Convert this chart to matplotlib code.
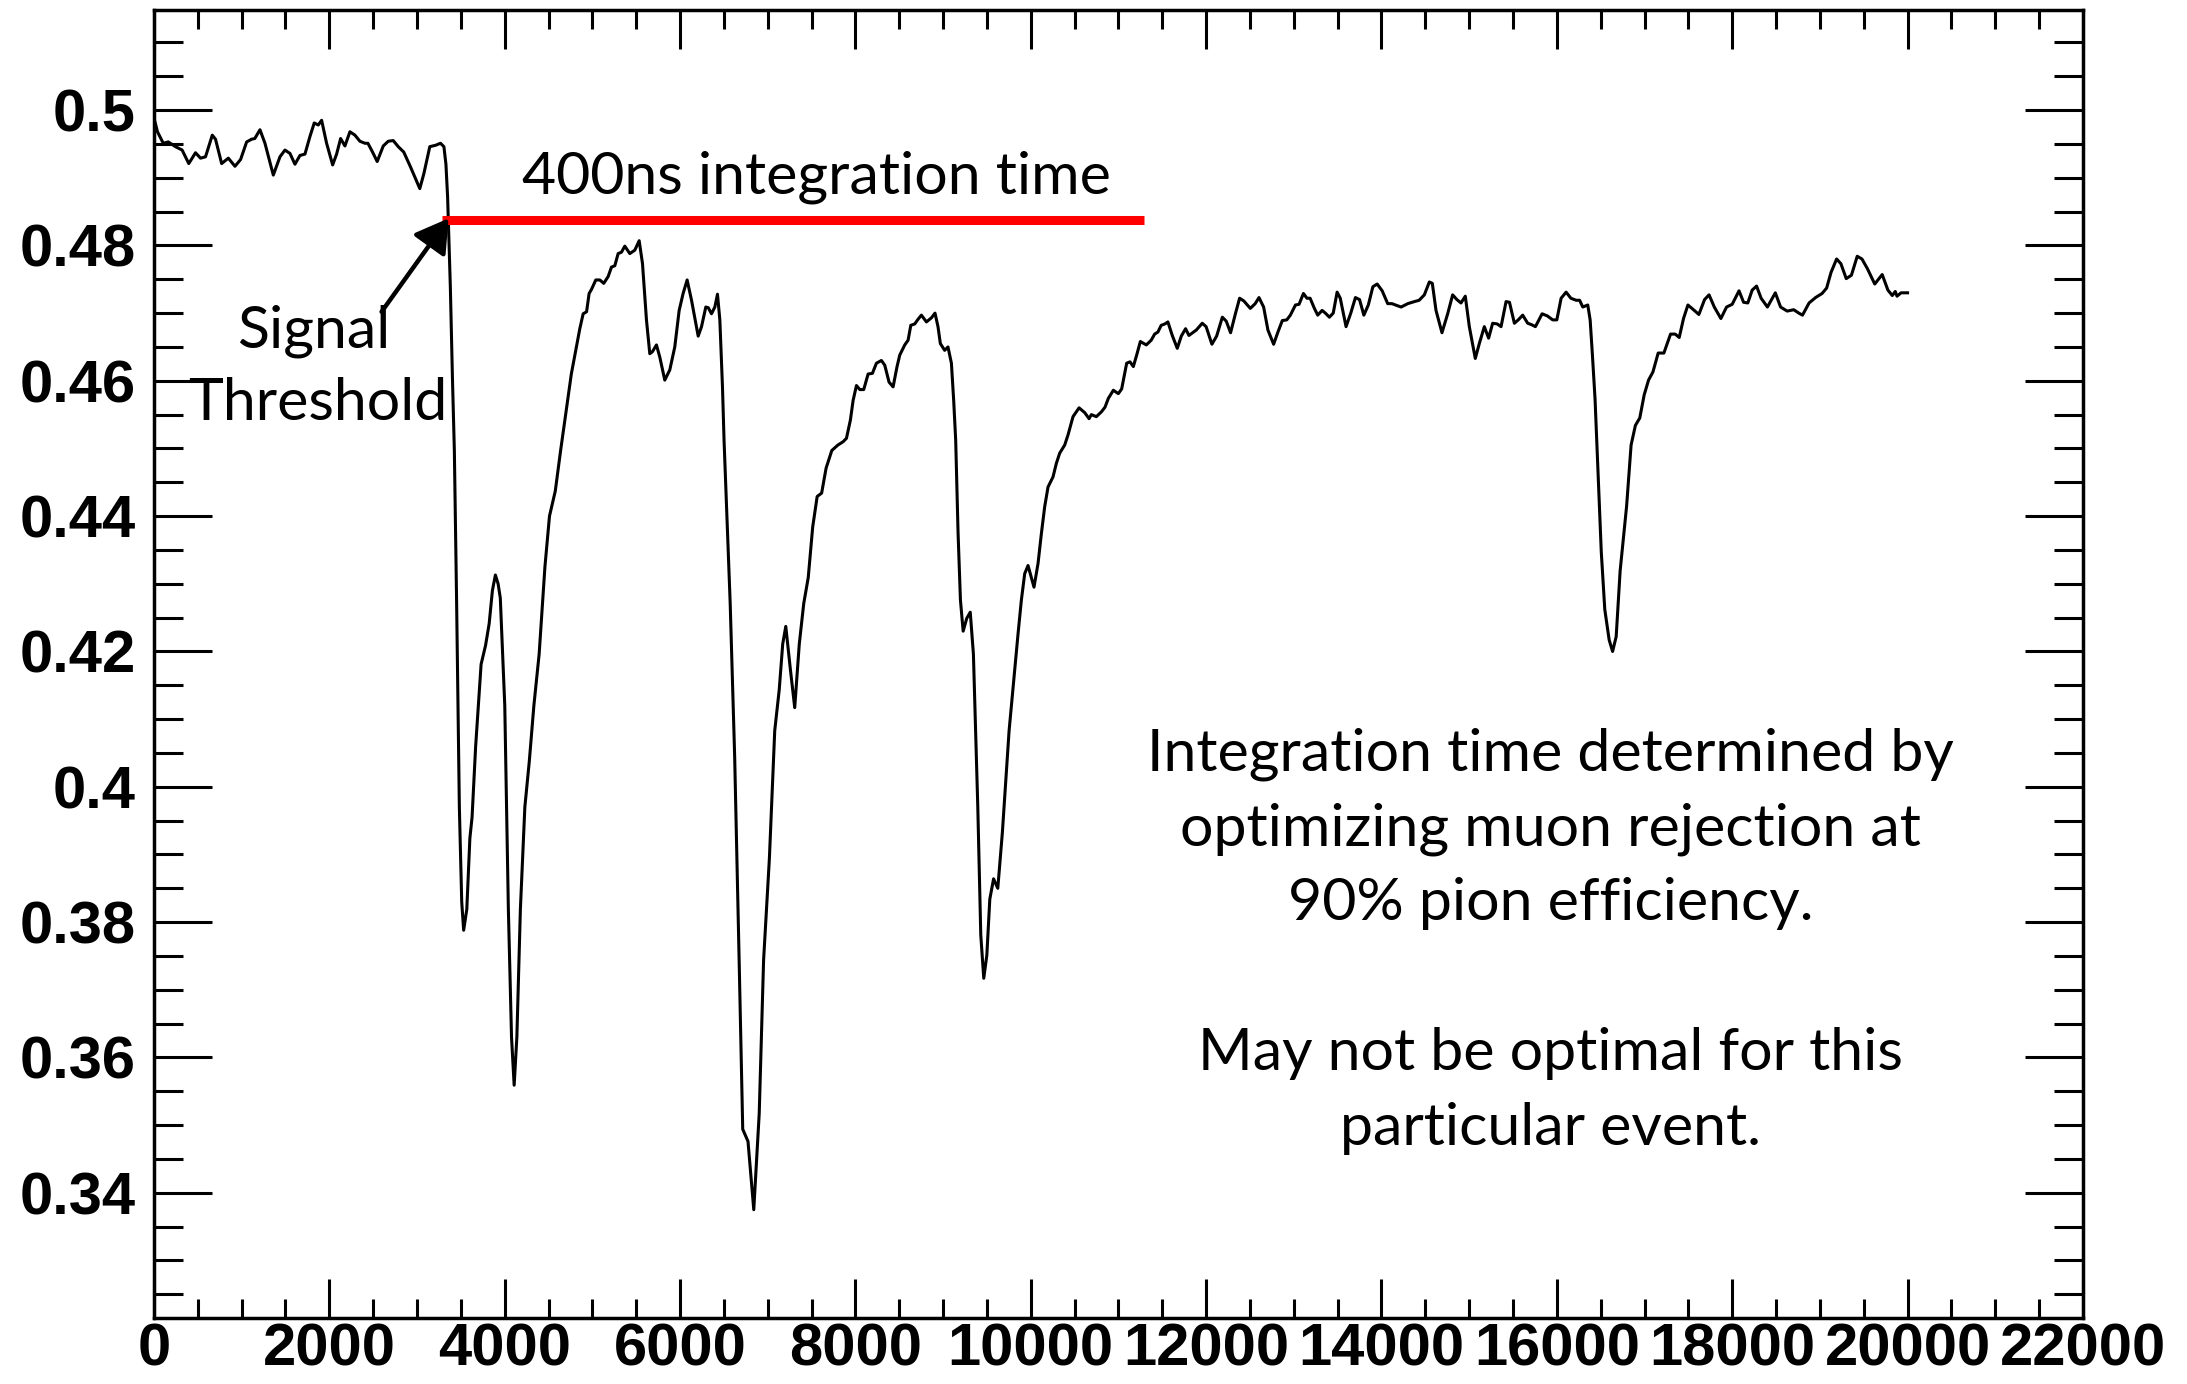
import matplotlib
matplotlib.use("Agg")
import matplotlib.pyplot as plt
from matplotlib.ticker import MultipleLocator, FuncFormatter

# waveform (sample index, amplitude)
wave_x = [0, 11, 40, 106, 163, 245, 321, 397, 474, 531, 588, 665, 702, 772, 848, 924, 988,
          1057, 1114, 1150, 1209, 1266, 1361, 1437, 1494, 1551, 1608, 1665, 1722, 1779, 1828,
          1874, 1912, 1969, 2038, 2083, 2129, 2178, 2235, 2292, 2349, 2406, 2440, 2493, 2546,
          2615, 2672, 2729, 2786, 2849, 2926, 2983, 3032, 3078, 3146, 3211, 3268, 3307, 3330,
          3349, 3380, 3405, 3426, 3452, 3483, 3510, 3532, 3568, 3603, 3628, 3669, 3731, 3782,
          3823, 3860, 3894, 3925, 3950, 4001, 4042, 4078, 4108, 4139, 4179, 4230, 4281, 4333,
          4393, 4459, 4511, 4577, 4638, 4700, 4760, 4810, 4857, 4895, 4934, 4963, 4990, 5039,
          5085, 5130, 5180, 5218, 5256, 5294, 5332, 5370, 5427, 5484, 5534, 5572, 5617, 5655,
          5685, 5731, 5769, 5826, 5883, 5940, 5990, 6035, 6081, 6131, 6207, 6245, 6294, 6322,
          6359, 6397, 6427, 6454, 6484, 6502, 6572, 6623, 6674, 6715, 6775, 6841, 6903, 6953,
          7019, 7080, 7131, 7171, 7206, 7258, 7308, 7360, 7411, 7462, 7513, 7564, 7615, 7666,
          7731, 7800, 7860, 7898, 7943, 7974, 8012, 8050, 8095, 8145, 8194, 8240, 8297, 8335,
          8384, 8430, 8475, 8506, 8563, 8601, 8632, 8677, 8715, 8753, 8810, 8867, 8908, 8942,
          8969, 9018, 9056, 9095, 9121, 9144, 9171, 9198, 9229, 9270, 9310, 9346, 9396, 9430,
          9464, 9499, 9533, 9576, 9624, 9676, 9753, 9855, 9893, 9931, 9969, 10037, 10083,
          10121, 10159, 10197, 10254, 10292, 10330, 10387, 10425, 10482, 10551, 10615, 10665,
          10691, 10748, 10805, 10847, 10885, 10942, 10999, 11037, 11094, 11132, 11170, 11208,
          11250, 11318, 11374, 11413, 11450, 11488, 11530, 11564, 11614, 11671, 11717, 11766,
          11804, 11888, 11956, 12000, 12066, 12120, 12185, 12230, 12279, 12336, 12382, 12430,
          12504, 12560, 12603, 12656, 12705, 12770, 12819, 12869, 12920, 12961, 13019, 13060,
          13110, 13150, 13186, 13235, 13273, 13323, 13360, 13406, 13450, 13494, 13530, 13596,
          13650, 13703, 13750, 13799, 13850, 13902, 13951, 14008, 14071, 14120, 14160, 14224,
          14300, 14375, 14430, 14489, 14546, 14580, 14622, 14690, 14755, 14812, 14860, 14907,
          14956, 15002, 15070, 15116, 15173, 15222, 15268, 15320, 15364, 15421, 15460, 15516,
          15560, 15611, 15668, 15710, 15756, 15832, 15890, 15953, 16000, 16049, 16106, 16160,
          16220, 16260, 16296, 16353, 16380, 16405, 16436, 16472, 16507, 16547, 16597, 16636,
          16677, 16722, 16757, 16796, 16847, 16896, 16946, 16996, 17046, 17096, 17156, 17221,
          17297, 17350, 17396, 17445, 17495, 17550, 17620, 17685, 17736, 17796, 17871, 17936,
          18000, 18078, 18130, 18178, 18228, 18278, 18330, 18402, 18492, 18552, 18627, 18702,
          18760, 18802, 18877, 18951, 19025, 19077, 19127, 19191, 19240, 19301, 19360, 19426,
          19480, 19541, 19626, 19711, 19776, 19826, 19860, 19880, 19926, 20000]
wave_y = [0.4985, 0.4983, 0.4968, 0.4951, 0.4953, 0.4946, 0.4941, 0.4921, 0.4937, 0.4929, 0.4931,
          0.4963, 0.4957, 0.4921, 0.4929, 0.4917, 0.4927, 0.4953, 0.4957, 0.4958, 0.4971, 0.4951,
          0.4904, 0.4931, 0.4941, 0.4936, 0.4920, 0.4933, 0.4935, 0.4961, 0.4981, 0.4978, 0.4985,
          0.4951, 0.4919, 0.4935, 0.4958, 0.4947, 0.4968, 0.4963, 0.4954, 0.4951, 0.4951, 0.4938,
          0.4924, 0.4947, 0.4954, 0.4955, 0.4946, 0.4938, 0.4916, 0.4899, 0.4884, 0.4906, 0.4946,
          0.4948, 0.4951, 0.4946, 0.4920, 0.4872, 0.4740, 0.4600, 0.4497, 0.4271, 0.3970, 0.3830,
          0.3788, 0.3819, 0.3924, 0.3955, 0.4060, 0.4181, 0.4209, 0.4241, 0.4290, 0.4313, 0.4300,
          0.4279, 0.4120, 0.3819, 0.3630, 0.3559, 0.3630, 0.3819, 0.3970, 0.4038, 0.4120, 0.4196,
          0.4325, 0.4400, 0.4437, 0.4497, 0.4555, 0.4610, 0.4645, 0.4677, 0.4699, 0.4702, 0.4729,
          0.4735, 0.4749, 0.4749, 0.4744, 0.4754, 0.4768, 0.4770, 0.4788, 0.4790, 0.4799, 0.4788,
          0.4793, 0.4807, 0.4773, 0.4690, 0.4640, 0.4643, 0.4653, 0.4635, 0.4601, 0.4616, 0.4650,
          0.4704, 0.4729, 0.4749, 0.4719, 0.4666, 0.4680, 0.4709, 0.4708, 0.4699, 0.4709, 0.4728,
          0.4690, 0.4591, 0.4512, 0.4271, 0.4045, 0.3744, 0.3494, 0.3476, 0.3375, 0.3517, 0.3744,
          0.3894, 0.4083, 0.4143, 0.4211, 0.4237, 0.4174, 0.4117, 0.4211, 0.4271, 0.4309, 0.4384,
          0.4429, 0.4434, 0.4471, 0.4497, 0.4505, 0.4510, 0.4515, 0.4542, 0.4571, 0.4593, 0.4587,
          0.4587, 0.4610, 0.4611, 0.4626, 0.4630, 0.4623, 0.4598, 0.4591, 0.4621, 0.4638, 0.4653,
          0.4660, 0.4682, 0.4684, 0.4691, 0.4697, 0.4687, 0.4693, 0.4700, 0.4680, 0.4655, 0.4645,
          0.4650, 0.4626, 0.4571, 0.4512, 0.4375, 0.4276, 0.4230, 0.4249, 0.4258, 0.4196, 0.3970,
          0.3781, 0.3717, 0.3751, 0.3834, 0.3864, 0.3850, 0.3932, 0.4083, 0.4226, 0.4276, 0.4315,
          0.4327, 0.4295, 0.4330, 0.4374, 0.4414, 0.4443, 0.4458, 0.4478, 0.4493, 0.4505, 0.4520,
          0.4547, 0.4560, 0.4553, 0.4544, 0.4550, 0.4547, 0.4554, 0.4561, 0.4574, 0.4586, 0.4581,
          0.4588, 0.4626, 0.4628, 0.4621, 0.4638, 0.4658, 0.4653, 0.4660, 0.4669, 0.4672, 0.4682,
          0.4684, 0.4687, 0.4667, 0.4648, 0.4666, 0.4677, 0.4667, 0.4675, 0.4685, 0.4680, 0.4654,
          0.4666, 0.4694, 0.4688, 0.4671, 0.4700, 0.4722, 0.4718, 0.4707, 0.4714, 0.4723, 0.4709,
          0.4675, 0.4654, 0.4672, 0.4689, 0.4690, 0.4697, 0.4712, 0.4713, 0.4729, 0.4722, 0.4722,
          0.4707, 0.4697, 0.4704, 0.4700, 0.4694, 0.4700, 0.4731, 0.4722, 0.4680, 0.4700, 0.4723,
          0.4720, 0.4697, 0.4712, 0.4739, 0.4743, 0.4733, 0.4714, 0.4714, 0.4712, 0.4709, 0.4714,
          0.4717, 0.4719, 0.4727, 0.4746, 0.4744, 0.4704, 0.4671, 0.4699, 0.4727, 0.4720, 0.4715,
          0.4725, 0.4680, 0.4633, 0.4655, 0.4680, 0.4663, 0.4685, 0.4684, 0.4680, 0.4717, 0.4716,
          0.4685, 0.4690, 0.4697, 0.4685, 0.4683, 0.4680, 0.4699, 0.4696, 0.4690, 0.4690, 0.4722,
          0.4731, 0.4722, 0.4719, 0.4719, 0.4709, 0.4712, 0.4690, 0.4640, 0.4573, 0.4460, 0.4347,
          0.4262, 0.4217, 0.4200, 0.4222, 0.4319, 0.4364, 0.4415, 0.4505, 0.4534, 0.4545, 0.4579,
          0.4601, 0.4613, 0.4641, 0.4641, 0.4669, 0.4669, 0.4664, 0.4692, 0.4712, 0.4706, 0.4698,
          0.4720, 0.4727, 0.4709, 0.4692, 0.4709, 0.4713, 0.4733, 0.4716, 0.4715, 0.4734, 0.4740,
          0.4722, 0.4709, 0.4730, 0.4709, 0.4703, 0.4705, 0.4700, 0.4697, 0.4715, 0.4723, 0.4729,
          0.4737, 0.4760, 0.4780, 0.4773, 0.4751, 0.4756, 0.4784, 0.4780, 0.4766, 0.4743, 0.4757,
          0.4734, 0.4726, 0.4732, 0.4725, 0.4730, 0.4730]

# integration window (red bar) and threshold crossing
window_x = [3290, 11290]
threshold = 0.4838

notes = ["Integration time determined by",
         "optimizing muon rejection at",
         "90% pion efficiency.",
         "",
         "May not be optimal for this",
         "particular event."]

plt.rcParams['font.family'] = ['Liberation Sans', 'DejaVu Sans']
plt.rcParams['font.weight'] = 'bold'

fig = plt.figure(figsize=(21.87, 13.84), dpi=100)
ax = fig.add_axes([0.0704, 0.0477, 0.8820, 0.9451])

ax.plot(wave_x, wave_y, color='black', lw=2.2, solid_joinstyle='round')
ax.plot(window_x, [threshold, threshold], color='#ff0000', lw=6.5, solid_capstyle='butt')

ax.annotate('', xy=(3360, 0.4840), xytext=(2596, 0.4702),
            arrowprops=dict(arrowstyle='-|>,head_length=0.5,head_width=0.3',
                            mutation_scale=40, lw=3.2, color='black',
                            shrinkA=0, shrinkB=0))

txt = dict(family=['Lato', 'DejaVu Sans'], weight='normal', fontsize=42.5,
           ha='center', va='baseline')
ax.text(7560, 0.48766, '400ns integration time', **txt)
ax.text(1824, 0.46497, 'Signal', **txt)
ax.text(1870, 0.45418, 'Threshold', **txt)
for i, line in enumerate(notes):
    ax.text(15929, 0.40244 - i * 0.01109, line, **txt)

ax.set_xlim(0, 22000)
ax.set_ylim(0.3215, 0.5148)
ax.xaxis.set_major_locator(MultipleLocator(2000))
ax.xaxis.set_minor_locator(MultipleLocator(500))
ax.yaxis.set_major_locator(MultipleLocator(0.02))
ax.yaxis.set_minor_locator(MultipleLocator(0.005))
fmt = FuncFormatter(lambda v, p: f'{v:g}')
ax.xaxis.set_major_formatter(fmt)
ax.yaxis.set_major_formatter(fmt)

ax.tick_params(which='both', direction='in', top=True, right=True, width=2.2,
               labelsize=43)
ax.tick_params(axis='x', which='major', length=28, pad=3)
ax.tick_params(axis='x', which='minor', length=14)
ax.tick_params(axis='y', which='major', length=42, pad=13)
ax.tick_params(axis='y', which='minor', length=21)
for s in ax.spines.values():
    s.set_linewidth(2.5)

fig.savefig('out.png', dpi=100)
